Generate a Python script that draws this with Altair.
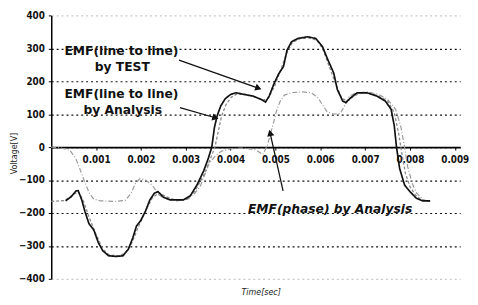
import math
import altair as alt
import pandas as pd

# ---------------- data (time in ms, voltage in V) ----------------
test_t = [0.32, 0.45, 0.55, 0.6, 0.68, 0.75, 0.84, 0.95, 1.05, 1.15, 1.28, 1.45, 1.6, 1.72, 1.82,
          1.9, 2.0, 2.1, 2.2, 2.3, 2.38, 2.5, 2.65, 2.95, 3.1, 3.25, 3.4, 3.5, 3.58, 3.64, 3.7,
          3.78, 3.88, 4.0, 4.12, 4.3, 4.5, 4.68, 4.78, 4.86, 4.96, 5.07, 5.18, 5.26, 5.36, 5.5,
          5.72, 5.9, 6.05, 6.17, 6.3, 6.38, 6.5, 6.57, 6.68, 6.82, 7.04, 7.26, 7.45, 7.58, 7.65,
          7.7, 7.77, 7.88, 8.0, 8.14, 8.28, 8.45]
test_v = [-163, -150, -133, -132, -160, -195, -232, -252, -290, -315, -330, -332, -330, -310, -275,
          -240, -222, -195, -160, -140, -135, -152, -160, -160, -148, -115, -72, -35, 0, 60, 95,
          125, 147, 160, 165, 160, 155, 145, 137, 155, 190, 222, 245, 295, 320, 330,
          335, 330, 305, 265, 225, 175, 140, 135, 150, 165, 165, 155, 140, 115, 65,
          0, -65, -115, -135, -155, -163, -163]

ana_t = [0.0, 0.3, 0.45, 0.6, 0.72, 0.85, 1.0, 1.15, 1.3, 1.5, 1.65, 1.8, 1.95, 2.1, 2.25, 2.4,
         2.55, 2.75, 3.0, 3.2, 3.4, 3.55, 3.65, 3.72, 3.8, 3.9, 4.02, 4.15, 4.35, 4.55, 4.72,
         4.85, 4.98, 5.12, 5.25, 5.38, 5.55, 5.75, 5.92, 6.05, 6.2, 6.35, 6.48, 6.6, 6.75, 6.9,
         7.1, 7.3, 7.5, 7.65, 7.75, 7.82, 7.9, 8.0, 8.12, 8.25, 8.45]
ana_v = [-165, -162, -148, -135, -165, -215, -265, -310, -328, -330, -322, -290, -240, -195, -155, -138,
         -150, -160, -160, -135, -85, -35, 0, 45, 95, 130, 152, 162, 160, 152, 142,
         150, 185, 235, 285, 318, 330, 332, 325, 300, 245, 190, 148, 140, 155, 165,
         165, 155, 140, 105, 40, -20, -80, -120, -145, -160, -165]

ph_t = [0.0, 0.2, 0.42, 0.55, 0.65, 0.73, 0.85, 0.95, 1.1, 1.4, 1.65, 1.78, 1.88, 1.98, 2.1, 2.25,
        2.4, 2.55, 2.8, 3.05, 3.2, 3.32, 3.42, 3.52, 3.65, 3.8, 4.0, 4.3, 4.55, 4.72, 4.82, 4.9,
        4.96, 5.02, 5.1, 5.2, 5.35, 5.6, 5.8, 5.95, 6.05, 6.15, 6.3, 6.45, 6.55, 6.65, 6.8,
        7.05, 7.3, 7.5, 7.68, 7.8, 7.88, 7.95, 8.05, 8.15, 8.3, 8.45]
ph_v = [0, -2, -10, -35, -70, -100, -140, -158, -163, -165, -162, -140, -110, -95, -100, -115,
        -145, -158, -163, -158, -140, -120, -85, -50, -28, -12, -5, -3, -8, -22, 5, 45,
        75, 108, 138, 158, 165, 168, 165, 150, 128, 108, 100, 103, 128, 155, 165,
        168, 160, 145, 115, 60, 0, -60, -110, -140, -160, -165]

x_ticks = [0.001, 0.002, 0.003, 0.004, 0.005, 0.006, 0.007, 0.008, 0.009]
y_ticks = [-400, -300, -200, -100, 0, 100, 200, 300, 400]

labels_text = ["EMF(line to line)", "by TEST", "EMF(line to line)", "by Analysis"]
labels_t = [0.001565, 0.001585, 0.001565, 0.001595]
labels_v = [292, 244, 162, 112]

phase_label = ["EMF(phase) by Analysis"]
phase_label_t = [0.006220]
phase_label_v = [-187]

arrow_t1 = [0.002850, 0.002870, 0.005170]
arrow_v1 = [264, 120, -133]
arrow_t2 = [0.004600, 0.003640, 0.004885]
arrow_v2 = [180, 90, 40]

# ---------------- layout ----------------
W, H = 416, 268
XMAX = 0.00912
px_per_s = W / XMAX
px_per_v = H / 800.0

def df_line(ts, vs, name):
    return pd.DataFrame({"t": [a / 1000.0 for a in ts], "v": vs, "s": name})

d_test = df_line(test_t, test_v, "test")
d_ana = df_line(ana_t, ana_v, "ana")
d_ph = df_line(ph_t, ph_v, "phase")

xs = alt.Scale(domain=[0, XMAX], nice=False, zero=False)
ys = alt.Scale(domain=[-400, 400], nice=False)

LABEL_FONT = "Liberation Sans Narrow, DejaVu Sans Condensed, sans-serif"
ANN_FONT = "DejaVu Sans, Verdana, sans-serif"

x_axis = alt.Axis(values=x_ticks, offset=-H / 2, labelExpr="format(datum.value, '.3f')",
                  domainColor="#000", domainWidth=1.8, tickColor="#000", tickSize=3,
                  labelFont=LABEL_FONT, labelFontSize=10, labelFontWeight="bold",
                  labelColor="#111", labelPadding=5,
                  grid=False, title="Time[sec]", titleFont=LABEL_FONT, titleFontSize=9,
                  titleFontStyle="italic", titleFontWeight="normal", titleColor="#222",
                  titleX=213, titleY=147, titleBaseline="middle", titleAlign="center")
y_axis = alt.Axis(values=y_ticks, domainColor="#000", domainWidth=1.5, tickColor="#000", tickSize=3,
                  labelFont=LABEL_FONT, labelFontSize=10, labelFontWeight="bold",
                  labelColor="#111", labelPadding=4,
                  grid=True, gridDash=[2, 3], gridWidth=1.2,
                  gridColor={"condition": {"test": "abs(datum.value) >= 400", "value": "#c8c8c8"},
                             "value": "#111111"},
                  title="Voltage[V]", titleFont=LABEL_FONT, titleFontSize=9, titleFontWeight="normal",
                  titleColor="#222", titleX=-38, titleY=140, titleAlign="center", titleBaseline="middle")

X = alt.X("t:Q", scale=xs, axis=x_axis)
Y = alt.Y("v:Q", scale=ys, axis=y_axis)

def line_layer(d, color, dash, width):
    return alt.Chart(d).mark_line(color=color, strokeDash=dash, strokeWidth=width).encode(
        x=X, y=Y, order="t:Q",
    )

ph_layer = line_layer(d_ph, "#9a9a9a", [5, 2, 1, 2], 1.2)
ana_layer = line_layer(d_ana, "#8a8a8a", [3, 2], 1.3)
test_layer = line_layer(d_test, "#111111", [1, 0], 1.7)

d_lab = pd.DataFrame({"t": labels_t, "v": labels_v, "txt": labels_text})
lab_layer = alt.Chart(d_lab).mark_text(font=ANN_FONT, fontSize=12.5,
                                       fontWeight="bold", color="#111", align="center",
                                       baseline="middle").encode(x=X, y=Y, text="txt:N")

d_plab = pd.DataFrame({"t": phase_label_t, "v": phase_label_v, "txt": phase_label})
plab_layer = alt.Chart(d_plab).mark_text(font=ANN_FONT, fontSize=12.5,
                                         fontWeight="bold", fontStyle="italic", color="#111",
                                         align="center", baseline="middle").encode(
    x=X, y=Y, text="txt:N")

angles = []
for a, b, c, d in zip(arrow_t1, arrow_v1, arrow_t2, arrow_v2):
    dx = (c - a) * px_per_s
    dy = -(d - b) * px_per_v
    ang = math.degrees(math.atan2(dx, -dy)) % 360
    angles.append(ang)
d_arr = pd.DataFrame({"t": arrow_t1, "v": arrow_v1, "t2": arrow_t2, "v2": arrow_v2, "ang": angles})

arr_rule = alt.Chart(d_arr).mark_rule(color="#111", strokeWidth=1.3).encode(
    x=X, y=Y, x2="t2:Q", y2="v2:Q")
arr_head = alt.Chart(d_arr).mark_point(shape="triangle", filled=True, color="#111", size=55,
                                       opacity=1).encode(
    x=alt.X("t2:Q", scale=xs, axis=x_axis), y=alt.Y("v2:Q", scale=ys, axis=y_axis),
    angle=alt.Angle("ang:Q", scale=None))

chart = alt.layer(ph_layer, ana_layer, test_layer, lab_layer, plab_layer,
                  arr_rule, arr_head).properties(
    width=W, height=H,
    autosize=alt.AutoSizeParams(type="none"),
    padding={"left": 44, "top": 5, "right": 10, "bottom": 20},
    background="white",
).configure_view(strokeWidth=0, stroke="transparent")

chart.save("out.html", embed_options={"renderer": "svg", "actions": False})
